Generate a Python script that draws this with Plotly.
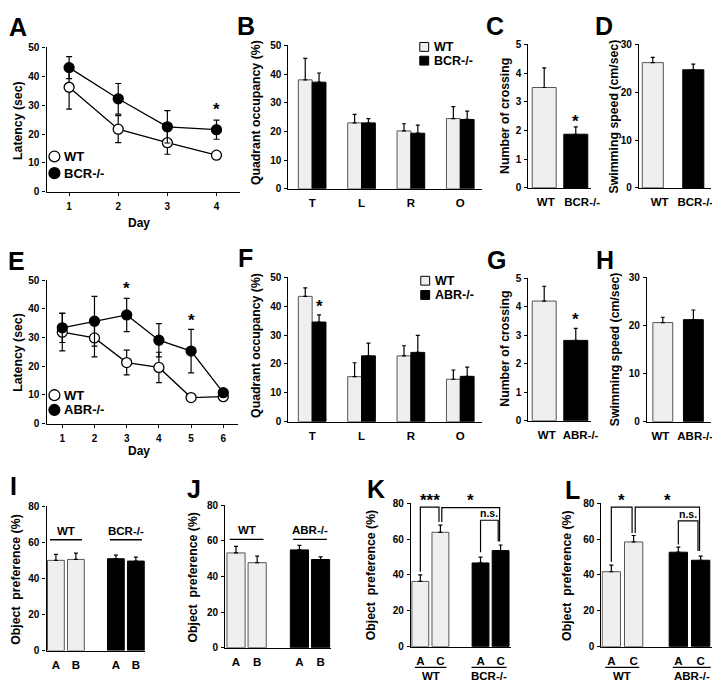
import plotly.graph_objects as go

W, H = 720, 682
FONT = "Liberation Sans, Arial, sans-serif"

# ---------------- data ----------------
days_A = [1, 2, 3, 4]
A_wt = [36.2, 21.7, 17.0, 12.7]
A_wt_err = [7.6, 4.7, 4.0, 0.6]
A_ko = [43.0, 32.2, 22.5, 21.5]
A_ko_err = [3.8, 5.3, 5.6, 3.3]

days_E = [1, 2, 3, 4, 5, 6]
E_wt = [31.9, 29.9, 21.3, 19.6, 9.1, 9.4]
E_wt_err = [6.5, 6.6, 4.3, 5.3, 0.9, 0.8]
E_ko = [33.4, 35.7, 37.9, 29.1, 25.3, 10.8]
E_ko_err = [5.1, 8.7, 5.8, 5.8, 7.6, 0.8]

quadrants = ["T", "L", "R", "O"]
B_wt = [38.0, 23.0, 20.2, 24.5]
B_wt_err = [7.5, 3.0, 2.5, 4.2]
B_ko = [37.2, 23.0, 19.4, 24.2]
B_ko_err = [3.2, 1.5, 2.8, 2.9]

F_wt = [43.4, 15.6, 22.8, 14.7]
F_wt_err = [2.9, 4.8, 3.5, 3.2]
F_ko = [34.5, 22.8, 24.0, 15.7]
F_ko_err = [2.5, 4.4, 5.9, 3.2]

genotypes_BCR = ["WT", "BCR-/-"]
genotypes_ABR = ["WT", "ABR-/-"]
C_vals = [3.50, 1.87]
C_err = [0.68, 0.26]
D_vals = [26.2, 24.7]
D_err = [1.1, 1.2]
G_vals = [4.20, 2.82]
G_err = [0.52, 0.42]
H_vals = [20.6, 21.2]
H_err = [1.1, 2.0]

objects_AB = ["A", "B", "A", "B"]
objects_AC = ["A", "C", "A", "C"]
I_vals = [50.0, 50.5, 50.9, 49.6]
I_err = [3.3, 3.5, 2.0, 2.2]
J_vals = [53.2, 47.7, 54.9, 49.5]
J_err = [3.7, 3.7, 2.5, 1.5]
K_vals = [36.4, 63.8, 46.7, 53.6]
K_err = [3.6, 4.0, 3.3, 3.1]
L_vals = [41.8, 58.4, 52.7, 48.2]
L_err = [3.7, 3.6, 2.8, 2.3]

# ---------------- layout geometry (pixels) ----------------
P = {
    1: dict(x=(39, 235), y=(34, 181), xr=[0.54, 4.48], yr=[0, 50], dt=10),
    2: dict(x=(284, 480), y=(32, 178), xr=[-0.48, 3.44], yr=[0, 50], dt=10),
    3: dict(x=(527, 590), y=(31, 177), xr=[-0.5, 1.47], yr=[0, 5], dt=1),
    4: dict(x=(639, 712), y=(31, 177), xr=[-0.34, 1.44], yr=[0, 30], dt=10),
    5: dict(x=(39, 233), y=(271, 417), xr=[0.51, 6.46], yr=[0, 50], dt=10),
    6: dict(x=(284, 480), y=(268, 415), xr=[-0.48, 3.44], yr=[0, 50], dt=10),
    7: dict(x=(527, 590), y=(269, 414), xr=[-0.5, 1.47], yr=[0, 5], dt=1),
    8: dict(x=(647, 712), y=(268, 415), xr=[-0.52, 1.58], yr=[0, 30], dt=10),
    9: dict(x=(39, 139), y=(501, 648), xr=[-0.47, 4.47], yr=[0, 80], dt=20),
    10: dict(x=(220, 327), y=(500, 645), xr=[-0.51, 4.49], yr=[0, 80], dt=20),
    11: dict(x=(408, 509), y=(498, 644), xr=[-0.47, 4.5], yr=[0, 80], dt=20),
    12: dict(x=(601, 715), y=(498, 644), xr=[-0.44, 4.6], yr=[0, 80], dt=20),
}
OBJ_POS = [0, 1, 3, 4]
GRAY = "#efefef"
EDGE = "#555555"


def px(x):
    return x / W


def py(y):
    return 1 - y / H


def ax(n, letter):
    return f"{letter}{'' if n == 1 else n}"


fig = go.Figure()


def line_trace(n, xs, ys, err, filled):
    fig.add_trace(go.Scatter(
        x=xs, y=ys, mode="lines+markers", xaxis=ax(n, "x"), yaxis=ax(n, "y"),
        line=dict(color="black", width=1.3),
        marker=dict(size=10, color="black" if filled else "white",
                    line=dict(color="black", width=1.3)),
        error_y=dict(type="data", array=err, color="black", thickness=1.2, width=3),
        showlegend=False, cliponaxis=False))


def bar_trace(n, xs, ys, err, colors, width):
    fig.add_trace(go.Bar(
        x=xs, y=ys, width=width, xaxis=ax(n, "x"), yaxis=ax(n, "y"),
        marker=dict(color=colors,
                    line=dict(color=[EDGE if c == GRAY else "black" for c in colors], width=1)),
        error_y=dict(type="data", array=err, arrayminus=[0] * len(err), symmetric=False,
                     color="black", thickness=1.2, width=2),
        showlegend=False))


# A & E line charts
line_trace(1, days_A, A_wt, A_wt_err, False)
line_trace(1, days_A, A_ko, A_ko_err, True)
line_trace(5, days_E, E_wt, E_wt_err, False)
line_trace(5, days_E, E_ko, E_ko_err, True)

# B & F grouped bars
qpos = list(range(len(quadrants)))
bw = 0.28
bar_trace(2, [q - bw / 2 for q in qpos], B_wt, B_wt_err, [GRAY] * 4, bw)
bar_trace(2, [q + bw / 2 for q in qpos], B_ko, B_ko_err, ["black"] * 4, bw)
bar_trace(6, [q - bw / 2 for q in qpos], F_wt, F_wt_err, [GRAY] * 4, bw)
bar_trace(6, [q + bw / 2 for q in qpos], F_ko, F_ko_err, ["black"] * 4, bw)

# C, D, G, H
bar_trace(3, [0, 1], C_vals, C_err, [GRAY, "black"], 0.76)
bar_trace(4, [0, 1], D_vals, D_err, [GRAY, "black"], 0.52)
bar_trace(7, [0, 1], G_vals, G_err, [GRAY, "black"], 0.76)
bar_trace(8, [0, 1], H_vals, H_err, [GRAY, "black"], 0.65)

# I, J, K, L
objcol = [GRAY, GRAY, "black", "black"]
bar_trace(9, OBJ_POS, I_vals, I_err, objcol, 0.84)
bar_trace(10, OBJ_POS, J_vals, J_err, objcol, 0.86)
bar_trace(11, OBJ_POS, K_vals, K_err, objcol, 0.84)
bar_trace(12, OBJ_POS, L_vals, L_err, objcol, 0.82)

# ---------------- axes ----------------
xticks = {
    1: (days_A, [str(d) for d in days_A]),
    2: (qpos, quadrants),
    3: ([0.05, 1.2], genotypes_BCR),
    4: ([0.17, 1.05], genotypes_BCR),
    5: (days_E, [str(d) for d in days_E]),
    6: (qpos, quadrants),
    7: ([0.08, 1.15], genotypes_ABR),
    8: ([-0.08, 1.06], genotypes_ABR),
    9: (OBJ_POS, objects_AB),
    10: (OBJ_POS, objects_AB),
    11: (OBJ_POS, objects_AC),
    12: (OBJ_POS, objects_AC),
}
layout = {}
for n, g in P.items():
    tv, tt = xticks[n]
    is_line = n in (1, 5)
    layout[("xaxis" if n == 1 else f"xaxis{n}")] = dict(
        domain=[px(g["x"][0]), px(g["x"][1])], range=g["xr"], anchor=ax(n, "y"),
        showline=True, linecolor="black", linewidth=1.3, showgrid=False, zeroline=False,
        ticks="outside" if is_line else "", ticklen=3, tickwidth=1.2, tickcolor="black",
        tickvals=tv, ticktext=tt, ticklabelstandoff=2 if is_line else 3,
        ticklabeloverflow="allow",
        tickfont=dict(family=FONT, size=10 if is_line else 11.5, color="black", weight="bold"),
        fixedrange=True)
    layout[("yaxis" if n == 1 else f"yaxis{n}")] = dict(
        domain=[py(g["y"][1]), py(g["y"][0])], range=g["yr"], anchor=ax(n, "x"),
        showline=True, linecolor="black", linewidth=1.3, showgrid=False, zeroline=False,
        ticks="outside", ticklen=3, tickwidth=1.2, tickcolor="black",
        tick0=0, dtick=g["dt"], ticklabelstandoff=1,
        tickfont=dict(family=FONT, size=10, color="black", weight="bold"),
        fixedrange=True)

annotations = []
shapes = []


def text(t, x, y, size, xref="paper", yref="paper", angle=0, xanchor="center", yanchor="middle"):
    annotations.append(dict(text=t, x=x, y=y, xref=xref, yref=yref, showarrow=False,
                            textangle=angle, xanchor=xanchor, yanchor=yanchor,
                            font=dict(family=FONT, size=size, color="black", weight="bold")))


def dom_y(n, v):
    lo, hi = P[n]["yr"]
    return (v - lo) / (hi - lo)


# panel letters
for lab, (x, y) in {"A": (10, 13), "B": (241, 12), "C": (493, 12), "D": (604, 12),
                    "E": (9, 251), "F": (240, 248), "G": (495, 250), "H": (605, 250),
                    "I": (6, 480), "J": (188, 483), "K": (373, 483), "L": (572, 485)}.items():
    text(lab, px(x), py(y), 25)

# y-axis titles
for t, x, y in [("Latency (sec)", 10, 108), ("Quadrant occupancy (%)", 251, 100),
                ("Number of crossing", 503, 104), ("Swimming speed (cm/sec)", 614, 104),
                ("Latency (sec)", 10, 344), ("Quadrant occupancy (%)", 251, 337),
                ("Number of crossing", 503, 341), ("Swimming speed (cm/sec)", 615, 341),
                ("Object\u00a0 preference (%)", 8, 575), ("Object\u00a0 preference (%)", 187, 573),
                ("Object\u00a0 preference (%)", 368, 571), ("Object\u00a0 preference (%)", 566, 571)]:
    text(t, px(x), py(y), 12.3, angle=-90)

# Day labels
text("Day", px(133), py(213), 12)
text("Day", px(133), py(445), 12)

# significance stars (data x, domain y so they are never hidden)
for n, xv, yv in [(1, 4, 28.5), (3, 1, 2.3), (5, 3, 47.0), (5, 5, 36.0), (6, 0.14, 40.0), (7, 1, 3.55)]:
    text("*", xv, dom_y(n, yv), 17, ax(n, "x"), ax(n, "y") + " domain")


# legends (A, E: circles; B, F: squares)
def circ_leg(cx, cy, filled, label):
    r = 5.5
    shapes.append(dict(type="circle", xref="paper", yref="paper",
                       x0=px(cx - r), x1=px(cx + r), y0=py(cy + r), y1=py(cy - r),
                       fillcolor="black" if filled else "white", line=dict(color="black", width=1.3)))
    text(label, px(cx + 8), py(cy), 13, xanchor="left")


def sq_leg(x0, cy, filled, label):
    s = 9
    shapes.append(dict(type="rect", xref="paper", yref="paper",
                       x0=px(x0), x1=px(x0 + s), y0=py(cy + s / 2), y1=py(cy - s / 2),
                       fillcolor="black" if filled else GRAY, line=dict(color="black", width=1)))
    text(label, px(x0 + s + 3), py(cy), 12.5, xanchor="left")


circ_leg(47, 145, False, "WT")
circ_leg(47, 162, True, "BCR-/-")
circ_leg(47, 388, False, "WT")
circ_leg(47, 403, True, "ABR-/-")
sq_leg(417, 33.5, False, "WT")
sq_leg(417, 47.5, True, "BCR-/-")
sq_leg(418, 271.5, False, "WT")
sq_leg(418, 286, True, "ABR-/-")

# group labels above bars in I and J
for n, y_line, names in [(9, 61.4, genotypes_BCR), (10, 60.8, genotypes_ABR)]:
    xa, ya = ax(n, "x"), ax(n, "y")
    for (a, b), nm in zip([(-0.3, 1.3), (2.7, 4.3)], names):
        shapes.append(dict(type="line", xref=xa, yref=ya, x0=a, x1=b, y0=y_line, y1=y_line,
                           line=dict(color="black", width=1.3)))
        text(nm, (a + b) / 2, y_line + 5, 11.5, xa, ya)

# group labels below axis in K and L
for n, names, spans in [(11, genotypes_BCR, [(-0.27, 1.3), (2.55, 4.3)]),
                        (12, genotypes_ABR, [(-0.27, 1.25), (2.75, 4.45)])]:
    xa = ax(n, "x")
    for (a, b), nm in zip(spans, names):
        shapes.append(dict(type="line", xref=xa, yref="paper", x0=a, x1=b,
                           y0=py(665), y1=py(665), line=dict(color="black", width=1.2)))
        text(nm, (a + b) / 2, py(673.5), 11.5, xa, "paper")


# significance brackets in K and L
def bracket(n, x0, x1, ytop, yb0, yb1, label, size=17, dy=4.0):
    xa, ya = ax(n, "x"), ax(n, "y")
    shapes.append(dict(type="path", xref=xa, yref=ya,
                       path=f"M {x0},{yb0} L {x0},{ytop} L {x1},{ytop} L {x1},{yb1}",
                       line=dict(color="black", width=1.2)))
    text(label, (x0 + x1) / 2, dom_y(n, ytop + dy), size, xa, ya + " domain")


bracket(11, 0, 0.93, 77.8, 41.8, 69.6, "***")
bracket(11, 1.07, 3.95, 77.5, 69.6, 58.6, "*")
bracket(11, 3.0, 3.88, 70.5, 52.6, 58.6, "n.s.", size=10.5, dy=3.8)
bracket(12, 0, 0.93, 77.8, 47.3, 63.4, "*")
bracket(12, 1.07, 3.95, 77.8, 63.4, 53.3, "*")
bracket(12, 3.0, 3.88, 70.2, 57.0, 53.3, "n.s.", size=10.5, dy=3.8)

fig.update_layout(
    width=W, height=H, margin=dict(l=0, r=0, t=0, b=0),
    paper_bgcolor="white", plot_bgcolor="white", barmode="overlay",
    showlegend=False, annotations=annotations, shapes=shapes,
    font=dict(family=FONT, color="black"),
    **layout)

fig.write_html("out.html")
